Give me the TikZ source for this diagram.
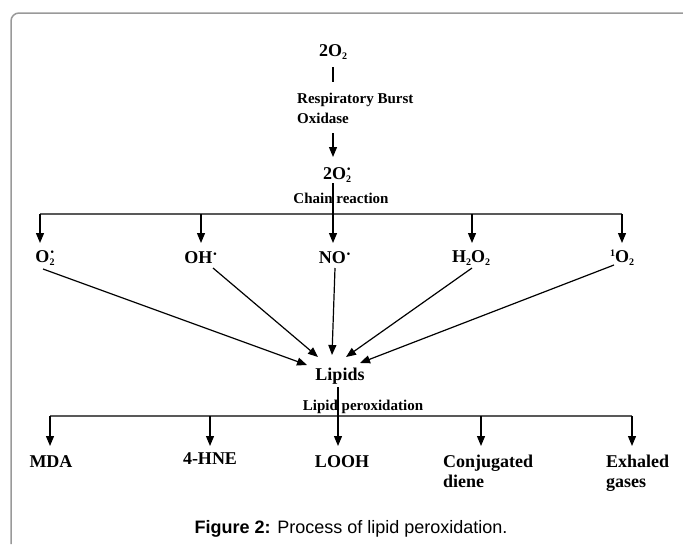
\documentclass[tikz,border=0pt]{standalone}
\usepackage{fontspec}
\setmainfont{Liberation Serif}
\setsansfont{Liberation Sans}
\usetikzlibrary{arrows.meta}
\newcommand{\dn}[1]{\raisebox{-0.35ex}{\fontsize{10}{10}\selectfont #1}}
\newcommand{\up}[1]{\raisebox{0.75ex}{\fontsize{10}{10}\selectfont #1}}
\newcommand{\rdot}{\raisebox{0.55ex}{\fontsize{16}{16}\selectfont ·}}
\newcommand{\radsub}{\makebox[0pt][l]{\rdot}\dn{2}}
\begin{document}
\begin{tikzpicture}[x=1pt,y=-1pt]
\tikzstyle{big}=[font=\fontsize{18}{20}\selectfont\bfseries,inner sep=0pt]
\tikzstyle{small}=[font=\fontsize{15}{20}\selectfont\bfseries,inner sep=0pt]
\tikzstyle{bar}=[draw=black!65,line width=2pt]
\tikzstyle{arr}=[-{Triangle[width=8pt,length=10pt]},line width=1.2pt]
\useasboundingbox (0,0) rectangle (683,544);
\draw[black!40,line width=1.5pt,rounded corners=8pt] (11,544) -- (11,13) -- (683,13);

\node[big] at (333,52) (dioxygen) {2O\dn{2}};
\node[small,align=left,anchor=west] at (297,108) (rbo) {Respiratory Burst\\Oxidase};
\node[big] at (337,175) (superox) {2O\radsub};
\node[small] at (341,198) (chain) {Chain reaction};

\node[big] at (45,258) (rad1) {O\radsub};
\node[big] at (201,258) (rad2) {OH\rdot};
\node[big] at (335,258) (rad3) {NO\rdot};
\node[big] at (471,258) (rad4) {H\dn{2}O\dn{2}};
\node[big] at (622,258) (rad5) {\up{1}O\dn{2}};

\node[big] at (340,376) (lipids) {Lipids};
\node[small] at (363,407) (lpo) {Lipid peroxidation};

\node[big] at (51,462) (mda) {MDA};
\node[big] at (210,459) (hne) {4-HNE};
\node[big] at (342,462) (looh) {LOOH};
\node[big,align=left,anchor=west] at (443,471) (conj) {Conjugated\\diene};
\node[big,align=left,anchor=west] at (606,473) (exh) {Exhaled\\gases};

\node[font=\sffamily\fontsize{18}{20}\selectfont] at (351,529) (caption) {\textbf{Figure 2:} Process of lipid peroxidation.};

\coordinate (t1) at (333,67);
\coordinate (t2) at (333,82);
\coordinate (t3) at (333,133);
\coordinate (t4) at (333,157);
\draw[line width=1.2pt] (t1) -- (t2);
\draw[arr] (t3) -- (t4);

\foreach \n/\x in {1/40,2/201,4/472,5/622} {
  \coordinate (cb\n) at (\x,214);
  \coordinate (ce\n) at (\x,243);
}
\coordinate (cs) at (333,183);
\coordinate (ce3) at (333,243);
\draw[bar] (cb1) -- (cb5);
\foreach \n in {1,2,4,5} \draw[arr] (cb\n) -- (ce\n);
\draw[arr] (cs) -- (ce3);

\coordinate (s1) at (43,269);
\coordinate (s2) at (213,268);
\coordinate (s3) at (335,268);
\coordinate (s4) at (472,268);
\coordinate (s5) at (614,265);
\coordinate (e1) at (307,365);
\coordinate (e2) at (318,357);
\coordinate (e3) at (332,355);
\coordinate (e4) at (346,357);
\coordinate (e5) at (360,363);
\foreach \n in {1,...,5} \draw[arr] (s\n) -- (e\n);

\foreach \n/\x in {1/50,2/210,4/481,5/632} {
  \coordinate (pb\n) at (\x,416);
  \coordinate (pe\n) at (\x,446);
}
\coordinate (ps) at (338,387);
\coordinate (pe3) at (338,446);
\draw[bar] (pb1) -- (pb5);
\foreach \n in {1,2,4,5} \draw[arr] (pb\n) -- (pe\n);
\draw[arr] (ps) -- (pe3);
\end{tikzpicture}
\end{document}
